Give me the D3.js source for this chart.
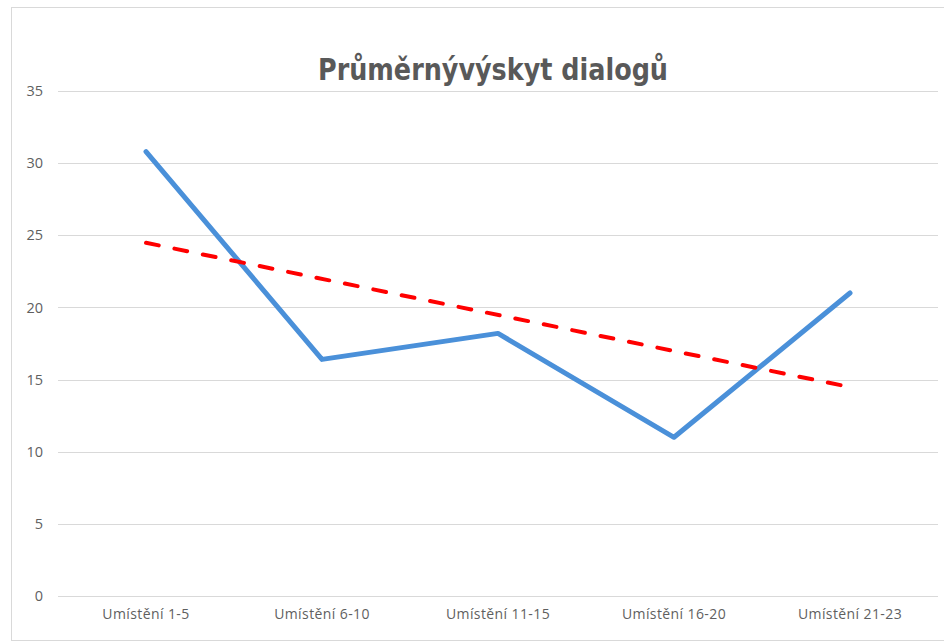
<!DOCTYPE html>
<html>
<head>
<meta charset="utf-8">
<script src="https://cdn.jsdelivr.net/npm/d3@7"></script>
<style>
  html, body { margin: 0; padding: 0; background: #fff; }
  svg { display: block; }
</style>
</head>
<body>
<svg id="chart" width="944" height="641"></svg>
<script>
// Average occurrence of dialogues per placement group
const categories = ["Umístění 1-5", "Umístění 6-10", "Umístění 11-15", "Umístění 16-20", "Umístění 21-23"];
const values = [30.8, 16.4, 18.2, 11.0, 21.0];
const yTicks = [0, 5, 10, 15, 20, 25, 30, 35];
const chartTitle = "Průměrnývýskyt dialogů";

const svg = d3.select("#chart");
const W = 944, H = 641;
const plot = { left: 58, right: 938, top: 91, bottom: 596 };
const labelFont = "'Open Sans', 'Liberation Sans', Arial, sans-serif";

// chart frame
svg.append("rect")
  .attr("x", 11.5).attr("y", 7.5)
  .attr("width", W + 10).attr("height", H - 8)
  .attr("fill", "#fff").attr("stroke", "#d9d9d9").attr("stroke-width", 1);

const x = d3.scaleBand().domain(categories).range([plot.left, plot.right]);
const y = d3.scaleLinear().domain([0, 35]).range([plot.bottom, plot.top]);

// horizontal gridlines
svg.append("g").selectAll("line").data(yTicks).join("line")
  .attr("x1", plot.left).attr("x2", plot.right)
  .attr("y1", d => Math.round(y(d)) + 0.5).attr("y2", d => Math.round(y(d)) + 0.5)
  .attr("stroke", "#d9d9d9").attr("stroke-width", 1);

// y axis labels
const yAxis = d3.axisLeft(y).tickValues(yTicks).tickSize(0).tickPadding(0);
svg.append("g")
  .attr("transform", `translate(${plot.left - 15},0)`)
  .call(yAxis)
  .call(g => g.select(".domain").remove())
  .call(g => g.selectAll("text")
    .attr("fill", "#5f5f5f")
    .attr("font-family", labelFont)
    .attr("font-size", 14.5));

// x axis labels
const xAxis = d3.axisBottom(x).tickSize(0).tickPadding(0);
svg.append("g")
  .attr("transform", `translate(0,${plot.bottom + 13})`)
  .call(xAxis)
  .call(g => g.select(".domain").remove())
  .call(g => g.selectAll("text")
    .attr("fill", "#5f5f5f")
    .attr("font-family", labelFont)
    .attr("font-size", 14)
    .attr("letter-spacing", 0.4));

const cx = d => x(d) + x.bandwidth() / 2;

// data line
const line = d3.line().x(d => cx(d.c)).y(d => y(d.v));
const pts = categories.map((c, i) => ({ c, v: values[i] }));
svg.append("path")
  .datum(pts)
  .attr("d", line)
  .attr("fill", "none")
  .attr("stroke", "#4a90d9")
  .attr("stroke-width", 5)
  .attr("stroke-linejoin", "round")
  .attr("stroke-linecap", "round");

// linear trendline (least squares over category index)
const n = values.length;
const xs = d3.range(1, n + 1);
const mx = d3.mean(xs), my = d3.mean(values);
const slope = d3.sum(xs, (xi, i) => (xi - mx) * (values[i] - my)) / d3.sum(xs, xi => (xi - mx) ** 2);
const intercept = my - slope * mx;
const trend = categories.map((c, i) => ({ c, v: intercept + slope * (i + 1) }));
svg.append("path")
  .datum([trend[0], trend[n - 1]])
  .attr("d", line)
  .attr("fill", "none")
  .attr("stroke", "#ff0000")
  .attr("stroke-width", 4)
  .attr("stroke-dasharray", "13,16")
  .attr("stroke-linecap", "round");

// title
svg.append("text")
  .attr("x", 318).attr("y", 80)
  .attr("fill", "#595959")
  .attr("font-family", "'DejaVu Sans Condensed', 'DejaVu Sans', sans-serif")
  .attr("font-stretch", "condensed")
  .attr("font-weight", "bold")
  .attr("font-size", 31)
  .attr("textLength", 350)
  .attr("lengthAdjust", "spacingAndGlyphs")
  .text(chartTitle);
</script>
</body>
</html>
